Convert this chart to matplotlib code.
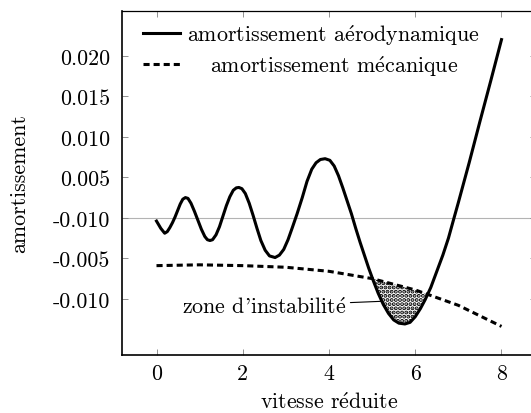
import numpy as np
import matplotlib
matplotlib.use("Agg")
import matplotlib.pyplot as plt

plt.rcParams['font.family'] = ['cmr10', 'DejaVu Serif']
plt.rcParams['mathtext.fontset'] = 'cm'
plt.rcParams['axes.unicode_minus'] = False
plt.rcParams['hatch.linewidth'] = 2.0

# amortissement aerodynamique
x_aero = [0.00, 0.10, 0.19, 0.25, 0.31, 0.37, 0.43, 0.49, 0.55, 0.61, 0.67,
          0.73, 0.80, 0.88, 0.96, 1.04, 1.12, 1.18, 1.24,
          1.30, 1.38, 1.46, 1.54, 1.62, 1.70, 1.78, 1.85, 1.91,
          1.98, 2.06, 2.15, 2.24, 2.33, 2.42, 2.52, 2.62, 2.75,
          2.85, 2.95, 3.05, 3.15, 3.26, 3.38, 3.49, 3.60, 3.70, 3.80, 3.91,
          4.02, 4.12, 4.22, 4.32, 4.42, 4.52, 4.62, 4.72, 4.82, 4.92, 5.03,
          5.14, 5.26, 5.38, 5.50, 5.62, 5.76,
          5.88, 6.00, 6.12, 6.23, 6.36, 6.50, 6.64, 6.77, 6.90, 7.00,
          7.25, 7.50, 7.75, 8.00]
y_aero = [-0.0004, -0.0013, -0.0019, -0.0017, -0.0012, -0.0006, 0.0001, 0.0009, 0.0017, 0.0023, 0.0025,
          0.0024, 0.0018, 0.0008, -0.0003, -0.0014, -0.0023, -0.0027, -0.0028,
          -0.0027, -0.0021, -0.0011, 0.0002, 0.0015, 0.0026, 0.0034, 0.0037, 0.00375,
          0.0036, 0.0030, 0.0018, 0.0003, -0.0013, -0.0028, -0.0040, -0.0047, -0.0049,
          -0.0046, -0.0039, -0.0027, -0.0012, 0.0005, 0.0025, 0.0045, 0.0060, 0.0068, 0.0072, 0.0073,
          0.0071, 0.0064, 0.0052, 0.0037, 0.0021, 0.0005, -0.0013, -0.0030, -0.0046, -0.0062, -0.0078,
          -0.0093, -0.0107, -0.0118, -0.0126, -0.0130, -0.0131,
          -0.0129, -0.0122, -0.0112, -0.0101, -0.0086, -0.0066, -0.0046, -0.0025, 0.0000, 0.0019,
          0.0068, 0.0119, 0.0169, 0.0220]

# amortissement mecanique
x_meca = [0, 1, 2, 3, 4, 5, 6, 7, 8]
y_meca = [-0.0059, -0.0058, -0.0059, -0.0061, -0.0066, -0.0075, -0.0089, -0.0108, -0.0134]

xticks = [0, 2, 4, 6, 8]
yticks = [0.020, 0.015, 0.010, 0.005, 0.0, -0.005, -0.010]
ytick_labels = ['0.020', '0.015', '0.010', '0.005', '-0.010', '-0.005', '-0.010']

e_acute = r'$\mathrm{\acute{e}}$'
label_aero = 'amortissement a' + e_acute + 'rodynamique'
label_meca = 'amortissement m' + e_acute + 'canique'
label_zone = "zone d'instabilit" + e_acute
label_x = 'vitesse r' + e_acute + 'duite'

fs = 15.8
fig = plt.figure(figsize=(5.31, 4.14), dpi=100)
ax = fig.add_axes([122 / 531, 58 / 414, (536 - 122) / 531, (356 - 12) / 414])

ax.axhline(0, color='0.7', lw=0.8, zorder=1)

xa = np.array(x_aero)
ya = np.array(y_aero)
ym = np.interp(xa, x_meca, y_meca)
ax.fill_between(xa, ya, ym, where=ya < ym, interpolate=True,
                facecolor='white', edgecolor='black', hatch='....', lw=0, zorder=2)

ax.plot(x_aero, y_aero, color='black', lw=2.2, label=label_aero, zorder=3)
ax.plot(x_meca, y_meca, color='black', lw=2.2, ls=(0, (2.0, 1.3)), dash_capstyle='butt',
        label=label_meca, zorder=3)

ax.annotate(label_zone, xy=(5.23, -0.0103), xytext=(4.40, -0.0109),
            ha='right', va='center', fontsize=fs,
            arrowprops=dict(arrowstyle='-', color='black', lw=0.8, shrinkA=1, shrinkB=0))

ax.set_xlim(-0.8, 8.8)
ax.set_ylim(-0.01693, 0.02553)
ax.set_xticks(xticks)
ax.set_xticklabels([str(t) for t in xticks])
ax.set_yticks(yticks)
ax.set_yticklabels(ytick_labels)
ax.tick_params(direction='in', length=4.3, width=0.6, color='0.5',
               top=True, right=True, labelsize=fs)
ax.tick_params(axis='y', pad=8.6)
ax.tick_params(axis='x', pad=6)

for s in ax.spines.values():
    s.set_linewidth(0.9)
ax.spines['left'].set_linewidth(1.2)
ax.spines['bottom'].set_linewidth(1.2)

ax.set_xlabel(label_x, fontsize=fs)
ax.set_ylabel('amortissement', fontsize=fs)
ax.xaxis.set_label_coords(0.5, -0.105)
ax.yaxis.set_label_coords(-0.225, 0.5)

leg = ax.legend(loc='upper left', frameon=False, fontsize=fs, handlelength=1.7,
                handletextpad=0.32, labelspacing=0.28, borderaxespad=0, borderpad=0,
                bbox_to_anchor=(0.0507, 0.969))

# centre the second entry under the first, like the original legend
fig.canvas.draw()
r = fig.canvas.get_renderer()
w1 = leg.texts[0].get_window_extent(r).width
w2 = leg.texts[1].get_window_extent(r).width
leg.texts[1].set_x((w1 - w2) / 2)

fig.savefig('out.png', dpi=100)
